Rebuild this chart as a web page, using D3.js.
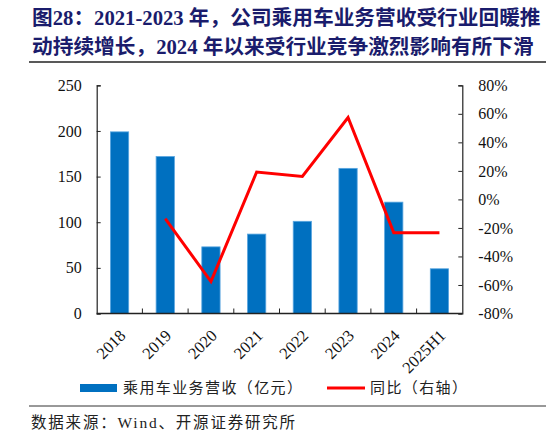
<!DOCTYPE html>
<html><head><meta charset="utf-8">
<script src="https://cdn.jsdelivr.net/npm/d3@7"></script>
<style>body{margin:0;background:#fff}svg{display:block}</style>
</head><body>
<script>
const categories = ["2018","2019","2020","2021","2022","2023","2024","2025H1"];
const revenue = [199,172,73,87,101,159,122,49];
const yoyCats = ["2019","2020","2021","2022","2023","2024","2025H1"];
const yoy = [-13.5,-57.6,19.2,16.1,57.4,-23.3,-23.3];
const leftTicks = [0,50,100,150,200,250];
const rightTicks = [-80,-60,-40,-20,0,20,40,60,80];

const W=546,H=436;
const svg=d3.select("body").append("svg").attr("width",W).attr("height",H);
const m={l:96.7,r:462.3,t:85.3,b:313.5};
const x=d3.scaleBand().domain(categories).range([m.l,m.r]).paddingInner(0).paddingOuter(0);
const yL=d3.scaleLinear().domain([0,250]).range([m.b,m.t]);
const yR=d3.scaleLinear().domain([-80,80]).range([m.b,m.t]);
const serif="'Liberation Serif','Times New Roman','Noto Sans CJK SC',serif";
const cjk="'Liberation Serif','Noto Sans CJK SC',sans-serif";

// title
const title=svg.append("g").attr("fill","#1a1c6c").attr("font-weight","bold")
  .attr("font-family","'Liberation Serif','Noto Sans CJK SC',serif").attr("font-size",20.7);
title.append("text").attr("x",32).attr("y",25).text("图28：2021-2023 年，公司乘用车业务营收受行业回暖推");
title.append("text").attr("x",32).attr("y",54).text("动持续增长，2024 年以来受行业竞争激烈影响有所下滑");
svg.append("line").attr("x1",29).attr("x2",546).attr("y1",62).attr("y2",62).attr("stroke","#222").attr("stroke-width",1.5);

// bars
const bw=x.bandwidth()*0.4;
svg.append("g").selectAll("rect").data(categories).join("rect")
  .attr("x",d=>x(d)+x.bandwidth()/2-bw/2).attr("width",bw)
  .attr("y",(d,i)=>yL(revenue[i])).attr("height",(d,i)=>yL(0)-yL(revenue[i]))
  .attr("fill","#0070c0").attr("stroke","#5aa6e0").attr("stroke-width",0.8);

// axes
const axisColor="#222";
const gL=svg.append("g").attr("transform",`translate(${m.l},0)`)
  .call(d3.axisLeft(yL).tickValues(leftTicks).tickSize(-4).tickPadding(15));
const gR=svg.append("g").attr("transform",`translate(${m.r},0)`)
  .call(d3.axisRight(yR).tickValues(rightTicks).tickSize(-4).tickPadding(16).tickFormat(d=>d+"%"));
[gL,gR].forEach(g=>{
  g.select(".domain").attr("stroke",axisColor).attr("stroke-width",1.2);
  g.selectAll(".tick line").attr("stroke",axisColor);
  g.selectAll("text").attr("font-family",serif).attr("font-size",16).attr("fill","#111");
});
// x axis with ticks at band boundaries
const gX=svg.append("g").attr("transform",`translate(0,${m.b})`);
gX.append("line").attr("x1",m.l).attr("x2",m.r).attr("stroke",axisColor).attr("stroke-width",1.5);
gX.selectAll("line.t").data(categories.slice(1)).join("line").attr("class","t")
  .attr("x1",d=>x(d)).attr("x2",d=>x(d)).attr("y1",0).attr("y2",-5).attr("stroke",axisColor);
gX.selectAll("text").data(categories).join("text")
  .attr("transform",d=>`translate(${x(d)+x.bandwidth()/2+3},19) rotate(-45)`)
  .attr("text-anchor","end").attr("dy","0.35em")
  .attr("font-family",serif).attr("font-size",16.5).attr("fill","#111").text(d=>d);

// line
const line=d3.line().x(d=>x(d[0])+x.bandwidth()/2).y(d=>yR(d[1]));
svg.append("path").datum(yoyCats.map((c,i)=>[c,yoy[i]])).attr("d",line)
  .attr("fill","none").attr("stroke","#ff0000").attr("stroke-width",3);

// legend
const lg=svg.append("g").attr("font-family",cjk).attr("font-size",15).attr("fill","#222").attr("letter-spacing",1.4);
lg.append("rect").attr("x",80).attr("y",384).attr("width",37).attr("height",8).attr("fill","#0070c0");
lg.append("text").attr("x",123).attr("y",393).text("乘用车业务营收（亿元）");
lg.append("line").attr("x1",327).attr("x2",365).attr("y1",388).attr("y2",388).attr("stroke","#ff0000").attr("stroke-width",3);
lg.append("text").attr("x",370).attr("y",393).text("同比（右轴）");
svg.append("line").attr("x1",29).attr("x2",546).attr("y1",406).attr("y2",406).attr("stroke","#333").attr("stroke-width",1);
svg.append("text").attr("x",31).attr("y",428).attr("font-family",cjk).attr("font-size",15.5).attr("letter-spacing",1.8).attr("fill","#222")
  .text("数据来源：Wind、开源证券研究所");
</script>
</body></html>
